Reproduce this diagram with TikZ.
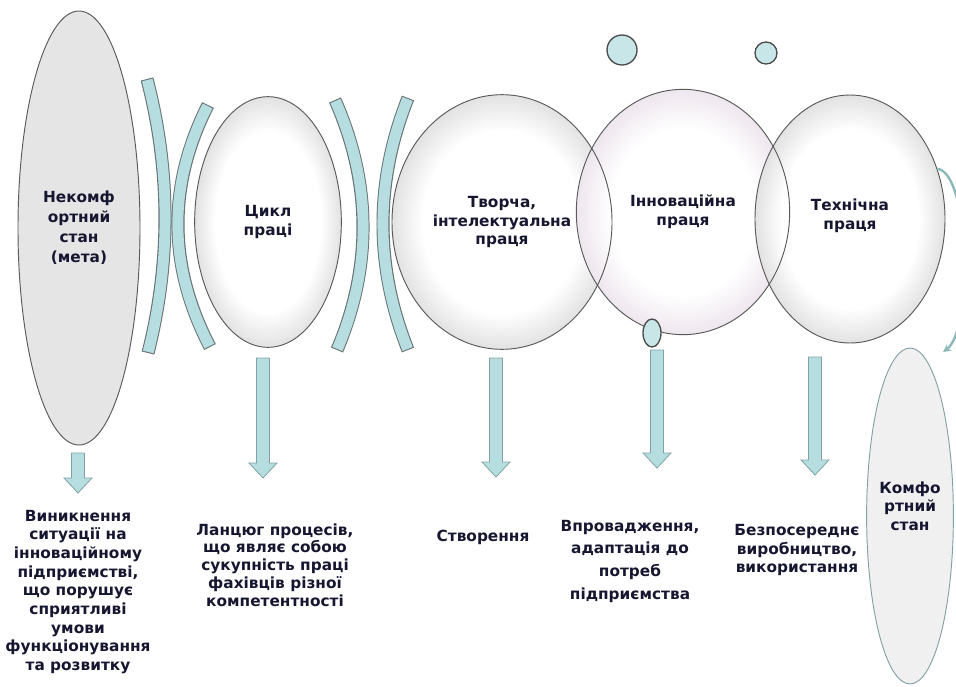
\documentclass[tikz,border=0pt]{standalone}
\usepackage{fontspec}
\setmainfont{DejaVu Sans}
\usetikzlibrary{shapes.geometric,arrows.meta}

\definecolor{lenscol}{RGB}{182,222,225}
\definecolor{lensedge}{RGB}{105,115,118}
\definecolor{rimgray}{RGB}{226,226,226}
\definecolor{rimpink}{RGB}{238,230,238}
\definecolor{inkcol}{RGB}{22,22,48}
\definecolor{loopcol}{RGB}{140,184,186}
\definecolor{arredge}{RGB}{128,162,164}

\pgfdeclareradialshading{bubble}{\pgfpoint{0bp}{0bp}}{color(0bp)=(white); color(18bp)=(white); color(25bp)=(rimgray); color(50bp)=(rimgray)}
\pgfdeclareradialshading{bubblepink}{\pgfpoint{0bp}{0bp}}{color(0bp)=(white); color(17bp)=(white); color(25bp)=(rimpink); color(50bp)=(rimpink)}

\tikzset{
  txt/.style={font=\fontsize{11.5}{14}\selectfont\bfseries, text=inkcol, align=center, inner sep=0pt},
  oval/.style={ellipse, draw=black!65, line width=0.7pt, inner sep=0pt, txt},
  bubble/.style={ellipse, shade, shading=bubble, inner sep=0pt, txt},
  rim/.style={draw=black!65, line width=0.7pt},
  dot/.style={circle, draw=black!70, line width=1pt, fill=lenscol!75, inner sep=0pt},
  lensbase/.style={draw=lensedge, line width=9.8pt},
  lenstop/.style={draw=lenscol, line width=8.2pt, shorten <=0.8pt, shorten >=0.8pt},
  blockarr/.style={draw=arredge, fill=lenscol, line width=0.6pt},
  backarrow/.style={draw=loopcol, line width=1.8pt, -{Stealth[length=6pt,width=6pt]}},
}

\begin{document}
\begin{tikzpicture}[x=0.75pt, y=-0.75pt]
  \useasboundingbox (0,0) rectangle (956,686);
  \clip (0,0) rectangle (956,686);

  % Lenses
  \foreach \xa/\ya/\xc/\yc/\xd/\yd/\xb/\yb in {147/79/170.7/170.3/171/261.7/148/353,
      208/105/167.3/185.7/168/266.3/210/347, 335/100/371.7/183.3/372.3/266.7/337/350,
      408/98/374.7/182/374.7/266/408/350} {
    \draw[lensbase] (\xa,\ya) .. controls (\xc,\yc) and (\xd,\yd) .. (\xb,\yb);
    \draw[lenstop] (\xa,\ya) .. controls (\xc,\yc) and (\xd,\yd) .. (\xb,\yb);
  }

  % Start states
  \node[oval, fill=black!10, minimum width=91.5pt, minimum height=325.5pt,
    font=\fontsize{11.5}{15}\selectfont\bfseries] (goal) at (79,228) {Некомф\\ортний\\стан\\(мета)};
  \node[oval, shade, shading=bubble, minimum width=110pt, minimum height=188pt] (cycle) at (268,222) {Цикл\\праці};

  % Kinds of labour
  \node[bubble, minimum width=165pt, minimum height=191pt] (creative) at (502,222) {Творча,\\інтелектуальна\\праця};
  \node[bubble, shading=bubblepink, minimum width=160pt, minimum height=184pt] (innov) at (683,212) {Інноваційна\\праця};
  \node[bubble, minimum width=142.5pt, minimum height=186pt] (tech) at (850,219) {Технічна\\праця\\[-6.5pt]};
  \foreach \n/\rx/\ry in {creative/82.5/95.5, innov/80/92, tech/71.25/93}
    \draw[rim] (\n.center) ellipse [x radius=\rx pt, y radius=\ry pt];

  % Down arrows
  \foreach \x/\t/\b in {78/453/493, 263/358/478, 496/358/477, 657/350/468, 815/357/475}
    \draw[blockarr] (\x-6.5,\t) -- (\x+6.5,\t) -- (\x+6.5,\b-15) -- (\x+14,\b-15)
      -- (\x,\b) -- (\x-14,\b-15) -- (\x-6.5,\b-15) -- cycle;

  % Bubbles
  \node[dot, minimum size=22.5pt] (bubblea) at (622,50) {};
  \node[dot, minimum size=16.5pt] (bubbleb) at (766,53) {};
  \node[dot, ellipse, minimum width=13.5pt, minimum height=21pt] (bubblec) at (652,333) {};

  % End state
  \node[oval, draw=arredge, fill=black!6, minimum width=63pt, minimum height=252pt] (comfort) at (910,516) {Комфо\\ртний\\стан\\[1pt]};
  \coordinate (loopend) at (943,352);
  \draw[backarrow] (tech.30) .. controls (970,172) and (973,330) .. (loopend);

  % Results
  \node[txt] (arise) at (78,592) {Виникнення\\ситуації на\\інноваційному\\підприємстві,\\що порушує\\сприятливі\\умови\\функціонування\\та розвитку};
  \node[txt, font=\fontsize{11.5}{13.3}\selectfont\bfseries] (chain) at (275,565) {Ланцюг процесів,\\що являє собою\\сукупність праці\\фахівців різної\\компетентності};
  \node[txt] (create) at (483,537) {Створення};
  \node[txt, font=\fontsize{11.5}{17}\selectfont\bfseries] (adopt) at (630,561) {Впровадження,\\адаптація до\\потреб\\підприємства};
  \node[txt] (produce) at (797,550) {Безпосереднє\\виробництво,\\використання};
\end{tikzpicture}
\end{document}
